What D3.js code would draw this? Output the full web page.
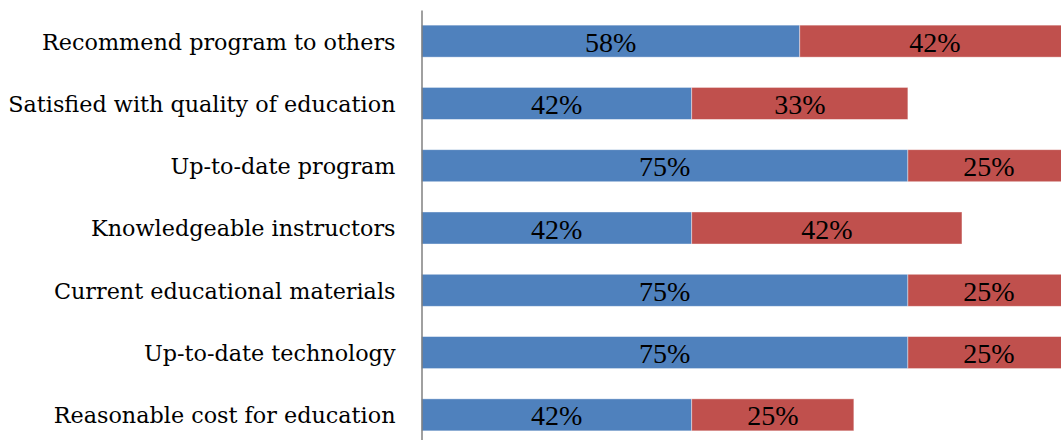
<!DOCTYPE html>
<html><head><meta charset="utf-8">
<script src="https://cdn.jsdelivr.net/npm/d3@7"></script>
<style>body{margin:0;background:#fff;overflow:hidden}</style>
</head><body>
<svg id="c" width="1061" height="440"></svg>
<script>
const categories = ["Recommend program to others","Satisfied with quality of education","Up-to-date program","Knowledgeable instructors","Current educational materials","Up-to-date technology","Reasonable cost for education"];
const seriesA = [58.33, 41.67, 75, 41.67, 75, 75, 41.67];
const seriesB = [41.67, 33.33, 25, 41.67, 25, 25, 25];
const colors = ["#4F81BD", "#C0504D"];

const svg = d3.select("#c");
const x = d3.scaleLinear().domain([0, 100]).range([421.5, 1070]);
const y = d3.scaleBand().domain(categories).range([10, 446]).paddingInner(0.486).paddingOuter(0.243);

const rows = categories.map((c, i) => ({c, a: seriesA[i], b: seriesB[i]}));
const stack = d3.stack().keys(["a", "b"])(rows);

stack.forEach((layer, li) => {
  const g = svg.append("g");
  g.selectAll("rect").data(layer).enter().append("rect")
    .attr("x", d => x(d[0])).attr("width", d => x(d[1]) - x(d[0]))
    .attr("y", d => y(d.data.c)).attr("height", y.bandwidth())
    .attr("fill", colors[li]).attr("stroke", "#fff").attr("stroke-opacity", 0.5).attr("stroke-width", 0.8);
  g.selectAll("text").data(layer).enter().append("text")
    .attr("x", d => (x(d[0]) + x(d[1])) / 2)
    .attr("y", d => y(d.data.c) + y.bandwidth() / 2 + 10.5)
    .attr("text-anchor", "middle")
    .style("font-family", "'Liberation Serif', serif").style("font-size", "28px").attr("fill", "#000")
    .text(d => Math.round(d[1] - d[0]) + "%");
});

const axis = d3.axisLeft(y).tickSize(0).tickPadding(26);
const ag = svg.append("g").attr("transform", "translate(421.5,0)").call(axis);
ag.select(".domain").attr("stroke", "#808080").attr("stroke-width", 1.5);
ag.selectAll("text").style("font-family", "'DejaVu Serif', serif").style("font-size", "22.3px").attr("fill", "#000").attr("dy", "0.38em");
</script>
</body></html>
